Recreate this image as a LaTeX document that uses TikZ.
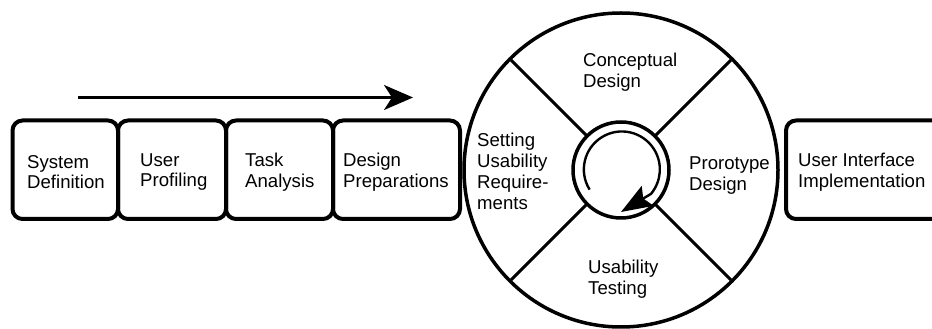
\documentclass[tikz,border=0pt]{standalone}
\usepackage{fontspec}
\setmainfont{Liberation Sans}
\usetikzlibrary{arrows.meta,calc}
\begin{document}
\begin{tikzpicture}[x=1pt,y=1pt,
  stagebox/.style={draw=black,line width=4pt,rounded corners=10pt},
  lbl/.style={align=left,anchor=west,font=\fontsize{18.6}{20.8}\selectfont,inner sep=0pt},
  ring/.style={draw=black,line width=3.5pt},
  spoke/.style={draw=black,line width=3pt}]
\useasboundingbox (0,0) rectangle (932,329);
\fill[white] (0,0) rectangle (932,329);
% stage boxes
\draw[stagebox] (12.5,110) rectangle (118,208.5);
\draw[stagebox] (118,110) rectangle (226,208.5);
\draw[stagebox] (226,110) rectangle (333,208.5);
\draw[stagebox] (333,110) rectangle (460,208.5);
\begin{scope}
\clip (0,0) rectangle (932,329);
\draw[stagebox] (786,110) rectangle (950,208.5);
\end{scope}
\node[lbl] (sd) at (27,157) {System\\Definition};
\node[lbl] (up) at (140,157) {User\\Profiling};
\node[lbl] (ta) at (245,157) {Task\\Analysis};
\node[lbl] (dp) at (343,157) {Design\\Preparations};
\node[lbl] (ui) at (798,157) {User Interface\\Implementation};
% arrow
\coordinate (a1) at (78,231.5);
\coordinate (a2) at (413,231.5);
\draw[line width=2.5pt,-{Stealth[length=29pt,width=25pt,inset=8pt]}] (a1) -- (a2);
% wheel
\coordinate (c) at (621,159);
\draw[ring] (c) circle[radius=157];
\draw[ring] (c) circle[radius=48];
\foreach \a in {45,135,225,315}{
  \draw[spoke] ($(c)+(\a:48)$) -- ($(c)+(\a:155.5)$);
}
\node[lbl,anchor=north west] (cd) at (583,276) {Conceptual\\Design};
\node[lbl,anchor=north west] (su) at (477,196) {Setting\\Usability\\Require-\\ments};
\node[lbl,anchor=north west] (pd) at (689,172) {Prorotype\\Design};
\node[lbl,anchor=north west] (ut) at (588,69) {Usability\\Testing};
% inner cycle arrow
\coordinate (cs) at ($(c)+(212:37)$);
\coordinate (ct) at ($(c)+(0,-42)$);
\draw[line width=2.4pt,-{Stealth[length=31pt,width=23pt,inset=5pt]}]
  (cs) arc[start angle=212,end angle=-40,radius=38] -- (ct);
\end{tikzpicture}
\end{document}
